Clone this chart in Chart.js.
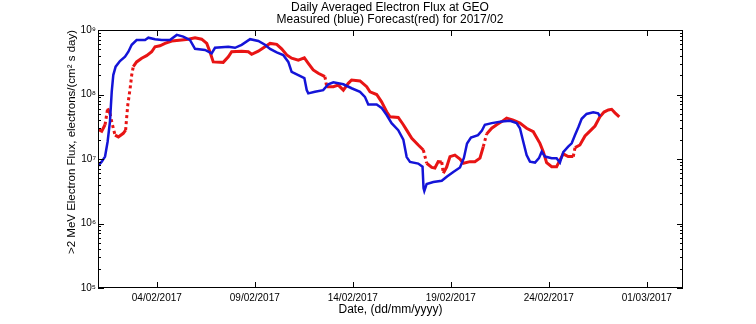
<!DOCTYPE html>
<html>
<head>
<meta charset="utf-8">
<script src="https://cdn.jsdelivr.net/npm/chart.js@4.4.1/dist/chart.umd.min.js"></script>
<style>
  html, body { margin: 0; padding: 0; background: #fff; }
  #chart { display: block; }
</style>
</head>
<body>
<canvas id="chart" width="756" height="324"></canvas>
<script>
// days since 01/02/2017 00:00, flux in electrons/(cm2 s day)
const measuredDays = [0.00, 0.19, 0.36, 0.49, 0.61, 0.70, 0.78, 0.90, 1.12, 1.38, 1.55, 1.72, 1.97, 2.40, 2.57, 2.91,
  3.25, 3.67, 4.02, 4.35, 4.69, 4.95, 5.46, 5.80, 5.97, 6.65, 6.99, 7.33, 7.76, 8.18, 8.52, 8.78, 9.12, 9.45, 9.71,
  9.88, 10.22, 10.53, 10.65, 10.73, 11.07, 11.49, 11.75, 12.01, 12.52, 12.94, 13.37, 13.62, 13.79, 14.22, 14.47,
  14.73, 14.98, 15.32, 15.58, 15.75, 15.92, 16.34, 16.56, 16.61, 16.65, 16.77, 17.11, 17.54, 17.81, 18.13, 18.47,
  18.67, 18.83, 19.03, 19.39, 19.59, 19.74, 20.09, 20.60, 21.02, 21.36, 21.53, 21.70, 21.87, 22.04, 22.30, 22.50,
  22.64, 22.81, 23.15, 23.40, 23.57, 23.74, 23.99, 24.17, 24.34, 24.51, 24.68, 24.93, 25.27, 25.52, 25.61];
const measuredFlux = [7.8e6, 9.1e6, 1.09e7, 1.85e7, 3.8e7, 1.1e8, 2.0e8, 2.7e8, 3.3e8, 3.85e8, 4.6e8, 5.9e8, 7.0e8,
  7.0e8, 7.6e8, 7.2e8, 7.0e8, 7.0e8, 8.4e8, 7.9e8, 7.0e8, 5.1e8, 4.9e8, 4.35e8, 5.3e8, 5.5e8, 5.3e8, 5.9e8, 7.2e8,
  6.75e8, 5.9e8, 5.1e8, 4.5e8, 4.1e8, 3.2e8, 2.25e8, 2.0e8, 1.8e8, 1.17e8, 1.04e8, 1.1e8, 1.17e8, 1.44e8, 1.55e8,
  1.44e8, 1.25e8, 1.1e8, 9.2e7, 7.0e7, 7.0e7, 6.2e7, 4.8e7, 3.6e7, 2.8e7, 2.0e7, 1.07e7, 9.0e6, 8.5e6, 7.6e6,
  3.55e6, 3.2e6, 4.1e6, 4.4e6, 4.6e6, 5.35e6, 6.3e6, 7.4e6, 1.04e7, 1.74e7, 2.15e7, 2.35e7, 2.77e7, 3.4e7, 3.6e7,
  3.8e7, 3.9e7, 3.6e7, 3.0e7, 1.85e7, 1.15e7, 9.1e6, 8.8e6, 1.03e7, 1.3e7, 1.09e7, 1.03e7, 1.03e7, 8.8e6, 1.28e7,
  1.55e7, 1.75e7, 2.35e7, 3.1e7, 4.2e7, 5.0e7, 5.3e7, 5.1e7, 4.6e7];

const forecastDays = [0.00, 0.19, 0.36, 0.44, 0.49, 0.61, 0.70, 0.78, 0.87, 1.04, 1.29, 1.41, 1.46, 1.52, 1.58, 1.65,
  1.72, 1.80, 1.97, 2.23, 2.48, 2.74, 2.91, 3.16, 3.42, 3.76, 4.27, 4.61, 4.95, 5.29, 5.55, 5.71, 5.88, 6.39, 6.65,
  6.82, 7.33, 7.67, 7.84, 8.18, 8.52, 8.78, 9.12, 9.37, 9.63, 9.88, 10.22, 10.53, 10.73, 10.98, 11.24, 11.58, 11.67,
  12.01, 12.26, 12.52, 12.77, 12.94, 13.37, 13.71, 13.88, 14.22, 14.47, 14.73, 14.90, 15.32, 15.58, 15.75, 16.01,
  16.34, 16.60, 16.68, 16.77, 17.03, 17.19, 17.36, 17.54, 17.62, 17.79, 17.96, 18.21, 18.47, 18.64, 18.98, 19.23,
  19.49, 19.66, 19.83, 20.09, 20.34, 20.60, 20.85, 21.19, 21.53, 21.87, 22.21, 22.55, 22.72, 22.89, 23.15, 23.40,
  23.57, 23.74, 23.99, 24.25, 24.34, 24.59, 24.85, 25.10, 25.36, 25.61, 25.82, 26.04, 26.21, 26.38, 26.60];
const forecastFlux = [2.9e7, 2.7e7, 3.4e7, 4.8e7, 6.1e7, 5.1e7, 3.8e7, 3.0e7, 2.35e7, 2.2e7, 2.5e7, 2.8e7, 4.3e7,
  6.9e7, 9.2e7, 1.32e8, 2.0e8, 2.7e8, 3.2e8, 3.65e8, 4.0e8, 4.6e8, 5.5e8, 5.7e8, 6.2e8, 6.75e8, 7.0e8, 7.2e8, 7.6e8,
  7.2e8, 6.2e8, 4.6e8, 3.2e8, 3.15e8, 3.85e8, 4.6e8, 4.7e8, 4.6e8, 4.2e8, 4.7e8, 5.5e8, 6.2e8, 6.0e8, 5.1e8, 4.1e8,
  3.65e8, 3.4e8, 3.7e8, 3.05e8, 2.4e8, 2.13e8, 1.89e8, 1.32e8, 1.32e8, 1.4e8, 1.17e8, 1.49e8, 1.68e8, 1.62e8,
  1.32e8, 1.1e8, 1.0e8, 7.7e7, 5.4e7, 4.5e7, 4.4e7, 3.4e7, 2.8e7, 2.1e7, 1.65e7, 1.38e7, 1.11e7, 8.6e6, 7.4e6,
  7.25e6, 9.1e6, 9.0e6, 6.0e6, 7.5e6, 1.09e7, 1.15e7, 1.0e7, 8.6e6, 9.1e6, 9.1e6, 1.03e7, 1.55e7, 2.45e7, 3.0e7,
  3.4e7, 3.8e7, 4.3e7, 4.0e7, 3.6e7, 3.0e7, 2.65e7, 1.75e7, 1.3e7, 8.8e6, 7.6e6, 7.6e6, 9.6e6, 1.2e7, 1.09e7,
  1.09e7, 1.5e7, 1.65e7, 2.27e7, 2.7e7, 3.25e7, 4.5e7, 5.35e7, 5.75e7, 5.9e7, 5.2e7, 4.5e7];

const xTickDays = [3, 8, 13, 18, 23, 28];
const xTickLabels = ["04/02/2017", "09/02/2017", "14/02/2017", "19/02/2017", "24/02/2017", "01/03/2017"];
const yDecades = [1e5, 1e6, 1e7, 1e8, 1e9];
const yTickLabels = ["10\u2075", "10\u2076", "10\u2077", "10\u2078", "10\u2079"];

const FONT = "'Liberation Sans', Arial, Helvetica, sans-serif";

const toPoints = (xs, ys) => xs.map((d, i) => ({ x: d, y: ys[i] }));

// box frame with inward ticks on all four sides, like the original plot
const framePlugin = {
  id: "frame",
  afterDatasetsDraw(chart) {
    const { ctx, chartArea: a, scales: { x, y } } = chart;
    ctx.save();
    ctx.strokeStyle = "#000";
    ctx.lineWidth = 1;
    ctx.strokeRect(Math.round(a.left) + 0.5, Math.round(a.top) + 0.5,
      Math.round(a.right - a.left) - 1, Math.round(a.bottom - a.top) - 1);
    ctx.beginPath();
    xTickDays.forEach(d => {
      const px = Math.round(x.getPixelForValue(d)) + 0.5;
      ctx.moveTo(px, a.bottom); ctx.lineTo(px, a.bottom - 6);
      ctx.moveTo(px, a.top); ctx.lineTo(px, a.top + 6);
    });
    yDecades.forEach(dec => {
      for (let m = 1; m <= 9; m++) {
        const v = dec * m;
        if (v > 1e9 * 1.001) break;
        const len = m === 1 ? 6 : 3;
        const py = Math.round(y.getPixelForValue(v)) + 0.5;
        ctx.moveTo(a.left, py); ctx.lineTo(a.left + len, py);
        ctx.moveTo(a.right, py); ctx.lineTo(a.right - len, py);
      }
    });
    ctx.stroke();
    ctx.restore();
  }
};

new Chart(document.getElementById("chart"), {
  type: "line",
  data: {
    datasets: [
      {
        label: "Measured",
        data: toPoints(measuredDays, measuredFlux),
        borderColor: "#1414d8",
        borderWidth: 2.5,
        pointRadius: 0,
        tension: 0
      },
      {
        label: "Forecast",
        data: toPoints(forecastDays, forecastFlux),
        borderColor: "#e81414",
        borderWidth: 3,
        pointRadius: 0,
        tension: 0,
        segment: {
          // very steep stretches of the forecast show up as separate dots
          borderDash: c => {
            const dy = Math.abs(c.p1.y - c.p0.y), dx = Math.abs(c.p1.x - c.p0.x);
            return (dy > 6 && dy > 3.5 * dx) ? [3, 3] : undefined;
          }
        }
      }
    ]
  },
  options: {
    responsive: false,
    animation: false,
    devicePixelRatio: 1,
    layout: { padding: { left: 24, right: 0, top: 0, bottom: 0 } },
    plugins: {
      legend: { display: false },
      tooltip: { enabled: false },
      title: {
        display: true,
        text: ["Daily Averaged Electron Flux at GEO", "Measured (blue) Forecast(red) for 2017/02"],
        color: "#000",
        font: { family: FONT, size: 12, weight: "normal", lineHeight: 1 },
        padding: { top: 2, bottom: 4 }
      }
    },
    scales: {
      x: {
        type: "linear",
        min: 0,
        max: 29.85,
        grid: { display: false, drawTicks: false },
        border: { display: false },
        afterBuildTicks: s => { s.ticks = xTickDays.map(v => ({ value: v })); },
        afterFit: s => { s.height = 36; },
        ticks: {
          autoSkip: false,
          maxRotation: 0,
          padding: 4,
          color: "#000",
          font: { family: FONT, size: 10 },
          callback: (v, i) => xTickLabels[i]
        },
        title: {
          display: true,
          text: "Date, (dd/mm/yyyy)",
          color: "#000",
          font: { family: FONT, size: 12, lineHeight: 1 },
          padding: { top: 0, bottom: 8 }
        }
      },
      y: {
        type: "logarithmic",
        position: "left",
        min: 1e5,
        max: 1e9,
        grid: { display: false, drawTicks: false },
        border: { display: false },
        afterBuildTicks: s => { s.ticks = yDecades.map(v => ({ value: v })); },
        afterFit: s => { s.width = 74; },
        ticks: {
          autoSkip: false,
          padding: 2,
          color: "#000",
          font: { family: FONT, size: 10 },
          callback: (v, i) => yTickLabels[i]
        },
        title: {
          display: true,
          align: "end",
          text: ">2 MeV Electron Flux, electrons/(cm\u00b2 s day)",
          color: "#000",
          font: { family: FONT, size: 11.5, lineHeight: 1.1 },
          padding: { top: 42, bottom: 0 }
        }
      },
      yr: {
        type: "logarithmic",
        position: "right",
        min: 1e5,
        max: 1e9,
        grid: { display: false, drawTicks: false },
        border: { display: false },
        ticks: { display: false },
        afterFit: s => { s.width = 73; }
      }
    }
  },
  plugins: [framePlugin]
});
</script>
</body>
</html>
